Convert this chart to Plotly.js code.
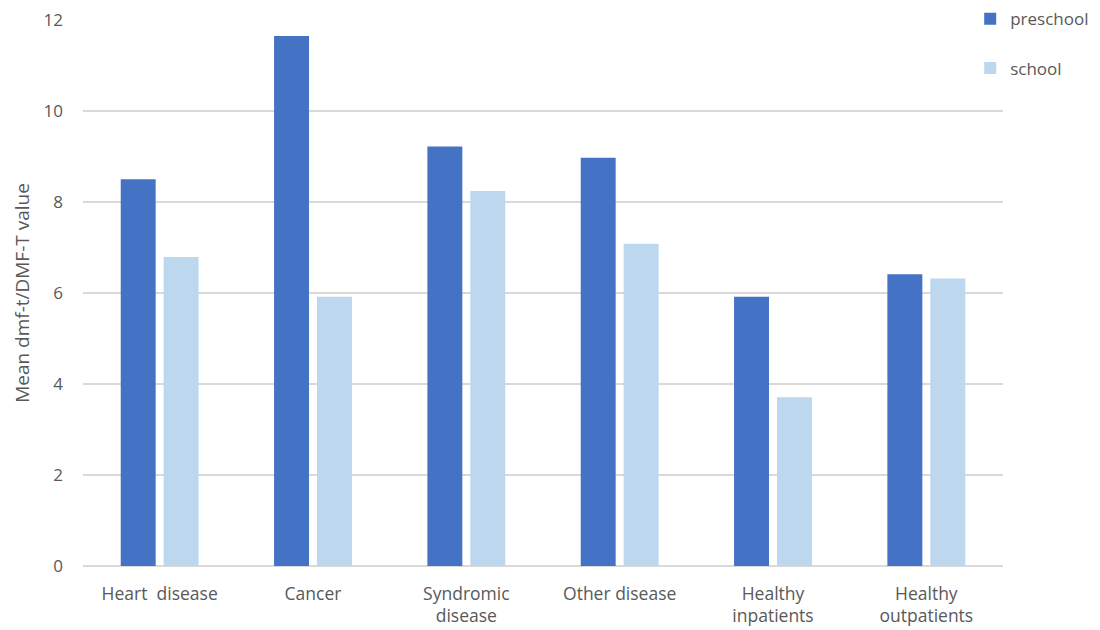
<!DOCTYPE html>
<html>
<head>
<meta charset="utf-8">
<script src="https://cdn.plot.ly/plotly-3.0.1.min.js"></script>
<style>
  html, body { margin: 0; padding: 0; background: #ffffff; }
  #chart { width: 1100px; height: 630px; }
</style>
</head>
<body>
<div id="chart"></div>
<script>
// Mean dmf-t / DMF-T by patient group
const categories = [
  'Heart  disease',
  'Cancer',
  'Syndromic<br>disease',
  'Other disease',
  'Healthy<br>inpatients',
  'Healthy<br>outpatients'
];
const preschool = [8.5, 11.65, 9.22, 8.97, 5.92, 6.41];
const school = [6.79, 5.92, 8.24, 7.08, 3.71, 6.32];
const yTicks = [0, 2, 4, 6, 8, 10, 12];

const fontFamily = '"Open Sans", "Noto Sans", sans-serif';
const textGray = '#595959';

const traces = [
  {
    type: 'bar',
    name: 'preschool',
    x: categories,
    y: preschool,
    marker: { color: '#4472C4' },
    legendgroup: 'a',
    hoverinfo: 'x+y'
  },
  {
    type: 'bar',
    name: 'school',
    x: categories,
    y: school,
    marker: { color: '#BDD7EE' },
    legendgroup: 'b',
    hoverinfo: 'x+y'
  }
];

const layout = {
  width: 1100,
  height: 630,
  paper_bgcolor: '#ffffff',
  plot_bgcolor: '#ffffff',
  margin: { l: 83, r: 97, t: 20, b: 64, autoexpand: false },
  barmode: 'group',
  bargap: 0.44,
  bargroupgap: 0.186,
  font: { family: fontFamily, color: textGray, size: 17 },
  xaxis: {
    showgrid: false,
    showline: false,
    zeroline: false,
    ticks: '',
    tickfont: { family: fontFamily, size: 17.5, color: textGray },
    ticklabelstandoff: 15
  },
  yaxis: {
    range: [0, 12],
    tickvals: yTicks,
    ticktext: yTicks.map(String),
    showgrid: true,
    gridcolor: '#d9d9d9',
    gridwidth: 2,
    zeroline: true,
    zerolinecolor: '#d9d9d9',
    zerolinewidth: 2,
    showline: false,
    ticks: '',
    tickfont: { family: fontFamily, size: 17, color: textGray },
    ticklabelstandoff: 19,
    title: {
      text: 'Mean dmf-t/DMF-T value',
      font: { family: fontFamily, size: 19, color: textGray },
      standoff: 8
    }
  },
  showlegend: true,
  legend: {
    xref: 'container',
    yref: 'container',
    x: 0.882,
    xanchor: 'left',
    y: 0.998,
    yanchor: 'top',
    traceorder: 'grouped',
    tracegroupgap: 24,
    itemwidth: 30,
    font: { family: fontFamily, size: 17, color: textGray },
    bgcolor: 'rgba(0,0,0,0)'
  }
};

Plotly.newPlot('chart', traces, layout, { displayModeBar: false, staticPlot: true });
</script>
</body>
</html>
